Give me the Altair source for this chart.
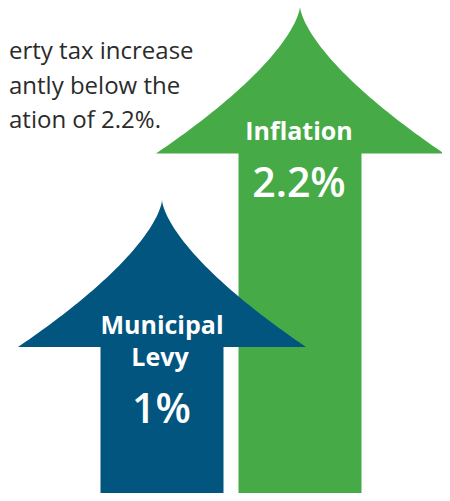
import altair as alt
import pandas as pd

# ---- chart content ----
names = ["Municipal Levy", "Inflation"]
label_lines = [["Municipal", "Levy"], ["Inflation"]]
values = ["1%", "2.2%"]
colors = ["#02557f", "#46ab46"]
paragraph = ["erty tax increase", "antly below the", "ation of 2.2%."]

# ---- layout (page pixel coordinates used as the data space) ----
W, H = 434, 485
X0, Y0 = 8, 8
centers = [162.0, 300.0]
tips = [200.0, 6.5]
head_depth = 147.0
head_half = 144.0
shaft_half = 61.5
bottom = 501.0


def outline(name, cx, ty):
    rows = []
    n = 60
    for k in range(n + 1):
        t = k / n
        hw = head_half * t ** 1.5
        rows.append({"name": name, "y": ty + t * head_depth, "x1": cx - hw, "x2": cx + hw})
    base = ty + head_depth
    rows.append({"name": name, "y": base + 0.01, "x1": cx - shaft_half, "x2": cx + shaft_half})
    rows.append({"name": name, "y": bottom, "x1": cx - shaft_half, "x2": cx + shaft_half})
    return rows


xs = alt.Scale(domain=[X0, X0 + W], range=[0, W], nice=False, zero=False)
ys = alt.Scale(domain=[Y0, Y0 + H], range=[0, H], nice=False, zero=False)

layers = []
# draw green (Inflation) first, blue on top
for i in [1, 0]:
    df = pd.DataFrame(outline(names[i], centers[i], tips[i]))
    layers.append(
        alt.Chart(df).mark_area(orient="horizontal", color=colors[i], interpolate="linear",
                                clip=True).encode(
            y=alt.Y("y:Q", scale=ys, axis=None),
            x=alt.X("x1:Q", scale=xs, axis=None, stack=None),
            x2="x2:Q",
        )
    )

# text rows
label_rows = [
    {"text": label_lines[0][0], "x": 162.0, "y": 334.0},
    {"text": label_lines[0][1], "x": 160.0, "y": 366.0},
    {"text": label_lines[1][0], "x": 299.0, "y": 140.0},
]
value_rows = [
    {"text": values[0], "x": 161.5, "y": 423.0},
    {"text": values[1], "x": 299.0, "y": 197.0},
]
para_rows = [
    {"text": paragraph[0], "x": 9.0, "y": 59.0},
    {"text": paragraph[1], "x": 9.0, "y": 94.0},
    {"text": paragraph[2], "x": 9.0, "y": 128.0},
]


def text_layer(rows, **kw):
    return alt.Chart(pd.DataFrame(rows)).mark_text(baseline="alphabetic", **kw).encode(
        x=alt.X("x:Q", scale=xs, axis=None),
        y=alt.Y("y:Q", scale=ys, axis=None),
        text="text:N",
    )


layers.append(text_layer(label_rows, align="center", font="Open Sans", fontSize=25,
                         fontWeight="bold", color="white"))
layers.append(text_layer(value_rows, align="center", font="Open Sans", fontSize=41,
                         fontWeight=600, color="white"))
layers.append(text_layer(para_rows, align="left", font="Open Sans", fontSize=24,
                         fontWeight="normal", color="#2b2b2b"))

chart = alt.layer(*layers).properties(
    width=W, height=H, padding=0, autosize=alt.AutoSizeParams(type="none"),
    background="white",
).configure_view(stroke=None)

chart.save("out.html", embed_options={"renderer": "svg", "actions": False})
